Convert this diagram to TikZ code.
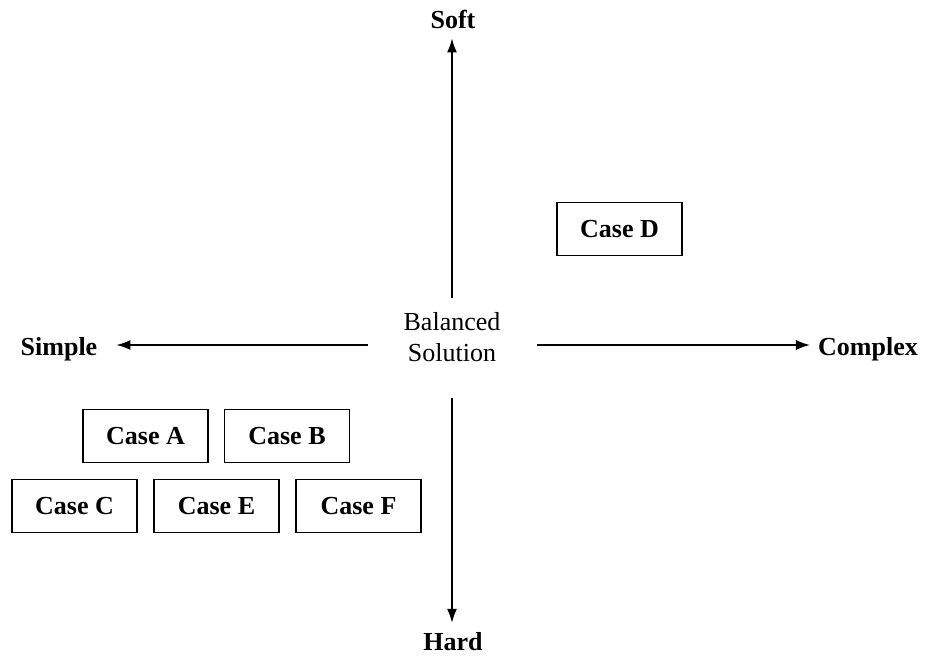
\documentclass[tikz,border=0pt]{standalone}
\usepackage{fontspec}
\setmainfont{Liberation Serif}
\usetikzlibrary{arrows.meta}

\begin{document}
\begin{tikzpicture}[x=1pt, y=-1pt,
        lbl/.style = {inner sep=0pt, font=\fontsize{26}{31}\selectfont\bfseries},
        casebox/.style = {draw, line width=1.3pt, minimum width=125pt, minimum height=53pt, inner sep=0pt, font=\fontsize{26}{31}\selectfont\bfseries},
        axis/.style = {line width=1.4pt, -{Latex[length=14pt, width=10pt]}}]
        \useasboundingbox (0,0) rectangle (930,662);

        \coordinate (hub) at (452,345);
        \node [inner sep=0pt, align=center, font=\fontsize{26}{31}\selectfont] (bal) at (452,337) {Balanced\\Solution};

        \node [lbl, anchor=base] (soft) at (453,28) {Soft};
        \node [lbl, anchor=base] (hard) at (453,650) {Hard};
        \node [lbl, anchor=base] (simple) at (59,355) {Simple};
        \node [lbl, anchor=base] (complex) at (868,355) {Complex};

        \draw [axis, shorten <=47pt, shorten >=10pt] (hub) -- (hub |- soft.south);
        \draw [axis, shorten <=53pt, shorten >=9pt] (hub) -- (hub |- hard.north);
        \draw [axis, shorten <=84pt, shorten >=19pt] (hub) -- (hub -| simple.east);
        \draw [axis, shorten <=85pt, shorten >=8pt] (hub) -- (hub -| complex.west);

        \node [casebox] (caseD) at (619.5,229) {Case D};
        \node [casebox] (caseA) at (145.5,436) {Case A};
        \node [casebox] (caseB) at (287,436) {Case B};
        \node [casebox] (caseC) at (74.5,506) {Case C};
        \node [casebox] (caseE) at (216.5,506) {Case E};
        \node [casebox] (caseF) at (358.5,506) {Case F};
\end{tikzpicture}
\end{document}
